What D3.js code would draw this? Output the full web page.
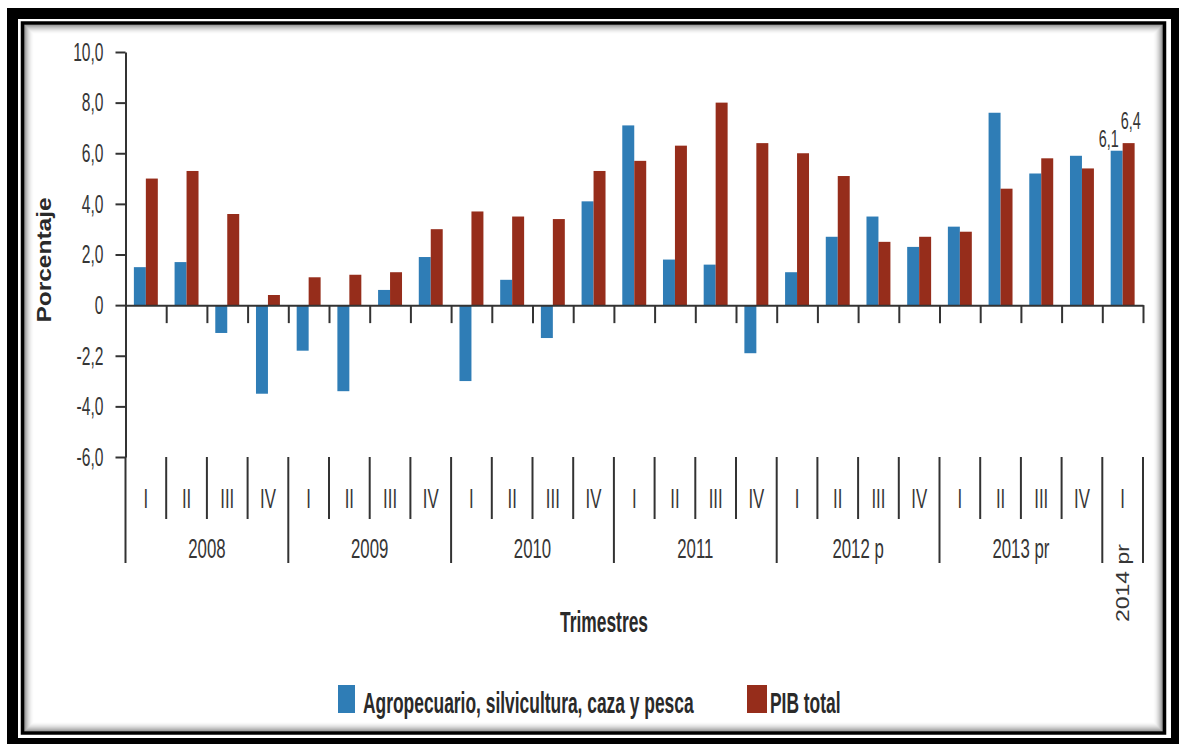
<!DOCTYPE html>
<html>
<head>
<meta charset="utf-8">
<script src="https://cdn.jsdelivr.net/npm/d3@7/dist/d3.min.js"></script>
<style>
  html, body { margin: 0; padding: 0; background: #fff; }
  svg { display: block; }
</style>
</head>
<body>
<div id="chart"></div>
<script>
// Quarterly growth (%) — agro sector vs total GDP
const QUARTERS = ['I', 'II', 'III', 'IV', 'I', 'II', 'III', 'IV', 'I', 'II', 'III', 'IV',
  'I', 'II', 'III', 'IV', 'I', 'II', 'III', 'IV', 'I', 'II', 'III', 'IV', 'I']
const YEAR_LABELS = ['2008', '2009', '2010', '2011', '2012 p', '2013 pr', '2014 pr']
const YEAR_SPANS = [4, 4, 4, 4, 4, 4, 1]
const AGRO = [1.5, 1.7, -1.1, -3.5, -1.8, -3.4, 0.6, 1.9, -3.0, 1.0, -1.3, 4.1,
  7.1, 1.8, 1.6, -1.9, 1.3, 2.7, 3.5, 2.3, 3.1, 7.6, 5.2, 5.9, 6.1]
const PIB = [5.0, 5.3, 3.6, 0.4, 1.1, 1.2, 1.3, 3.0, 3.7, 3.5, 3.4, 5.3,
  5.7, 6.3, 8.0, 6.4, 6.0, 5.1, 2.5, 2.7, 2.9, 4.6, 5.8, 5.4, 6.4]
const SERIES_NAMES = ['Agropecuario, silvicultura, caza y pesca', 'PIB total']
const Y_TICKS = [-6, -4, -2, 0, 2, 4, 6, 8, 10]
const Y_TICK_LABELS = ['-6,0', '-4,0', '-2,2', '0', '2,0', '4,0', '6,0', '8,0', '10,0']
const LAST_LABELS = ['6,1', '6,4']

const COLORS = ['#2f7db6', '#962d1b']
const INK = '#363636'
const FONT = '"Liberation Sans", Arial, sans-serif'
const SX = 0.6   // the source is squeezed horizontally
const SX_ROT = 0.8

const W = 1179, H = 744
const svg = d3.select('#chart').append('svg').attr('width', W).attr('height', H)
svg.append('rect').attr('width', W).attr('height', H).attr('fill', '#fff')

// Frame — thick outer border, thin inner border with inset shadow
svg.append('rect')
  .attr('x', 12.5).attr('y', 13.5).attr('width', 1164).attr('height', 730)
  .attr('fill', 'none').attr('stroke', '#000').attr('stroke-width', 11)
const inner = { x: 22.5, y: 23, w: 1142, h: 710 }
d3.range(10).forEach(k => {
  svg.append('rect')
    .attr('x', inner.x + 2 + k).attr('y', inner.y + 2 + k)
    .attr('width', inner.w - 4 - 2 * k).attr('height', inner.h - 4 - 2 * k)
    .attr('fill', 'none').attr('stroke', '#000')
    .attr('stroke-opacity', 0.45 * Math.pow(1 - k / 10, 2))
})
svg.append('rect')
  .attr('x', inner.x).attr('y', inner.y).attr('width', inner.w).attr('height', inner.h)
  .attr('fill', 'none').attr('stroke', '#000').attr('stroke-width', 3.5)

// Scales
const X0 = 125.5, X1 = 1143
const idx = d3.range(QUARTERS.length)
const x = d3.scaleBand().domain(idx).range([X0, X1]).paddingInner(0).paddingOuter(0)
const xb = d3.scaleLinear().domain([0, QUARTERS.length]).range([X0, X1]) // band boundaries
const x1 = d3.scaleBand().domain([0, 1]).range([0, x.bandwidth()]).paddingInner(0).paddingOuter(0.7)
const y = d3.scaleLinear().domain([-6, 10]).range([457, 52])

function squeezed(parent, px, py, str, o = {}) {
  const sx = o.rotate ? SX_ROT : SX
  const rot = o.rotate ? ` rotate(${o.rotate})` : ''
  return parent.append('text')
    .attr('transform', `translate(${px},${py}) scale(${sx},1)${rot}`)
    .attr('text-anchor', o.anchor || 'middle')
    .attr('font-family', FONT)
    .attr('font-size', o.size || 28)
    .attr('font-weight', o.weight || 'normal')
    .attr('fill', o.fill || INK)
    .text(str)
}

// Bars
const rows = idx.map(i => ({ i, vals: [AGRO[i], PIB[i]] }))
const grp = svg.append('g').selectAll('g').data(rows).join('g')
  .attr('transform', d => `translate(${x(d.i)},0)`)
grp.selectAll('rect').data(d => d.vals.map((v, s) => ({ v, s }))).join('rect')
  .attr('x', d => x1(d.s))
  .attr('width', x1.bandwidth())
  .attr('y', d => y(Math.max(0, d.v)))
  .attr('height', d => Math.abs(y(d.v) - y(0)))
  .attr('fill', d => COLORS[d.s])

// Y axis
svg.append('g')
  .attr('transform', `translate(${X0},0)`)
  .call(d3.axisLeft(y).tickValues(Y_TICKS).tickSize(10).tickSizeOuter(0)
    .tickFormat((d, i) => Y_TICK_LABELS[i]))
  .call(ax => ax.select('.domain').attr('stroke', '#333').attr('stroke-width', 2))
  .call(ax => ax.selectAll('line').attr('stroke', '#333').attr('stroke-width', 2))
  .call(ax => ax.selectAll('text')
    .attr('transform', `scale(${SX},1)`)
    .attr('x', -22 / SX)
    .attr('fill', INK).attr('font-size', 26).attr('font-family', FONT))

// Zero line with boundary ticks
svg.append('g')
  .attr('transform', `translate(0,${y(0)})`)
  .call(d3.axisBottom(xb).tickValues(d3.range(1, QUARTERS.length + 1))
    .tickSize(18).tickSizeOuter(0).tickFormat(''))
  .call(ax => ax.select('.domain').attr('stroke', '#333').attr('stroke-width', 2))
  .call(ax => ax.selectAll('line').attr('stroke', '#333').attr('stroke-width', 2))

// Lower category axis: quarter and year separators
const yearStarts = YEAR_SPANS.map((n, k) => d3.sum(YEAR_SPANS.slice(0, k)))
const bounds = d3.range(QUARTERS.length + 1)
const isYearBound = b => b === QUARTERS.length || yearStarts.includes(b)
svg.append('g').selectAll('line').data(bounds).join('line')
  .attr('x1', b => xb(b)).attr('x2', b => xb(b))
  .attr('y1', y(-6))
  .attr('y2', b => isYearBound(b) ? 563 : 519)
  .attr('stroke', '#333').attr('stroke-width', 2)

const labels = svg.append('g')
idx.forEach(i => squeezed(labels, x(i) + x.bandwidth() / 2, 508, QUARTERS[i], { size: 28 }))

YEAR_LABELS.forEach((lab, k) => {
  const a = yearStarts[k], b = a + YEAR_SPANS[k]
  const cx = (xb(a) + xb(b)) / 2
  if (YEAR_SPANS[k] === 1) {
    squeezed(labels, cx + 6, 583, lab, { size: 23, rotate: -90 })
  } else {
    squeezed(labels, cx, 558, lab, { size: 28 })
  }
})

// Value labels on the last quarter
const last = QUARTERS.length - 1
squeezed(svg, x(last) + x1(0) + x1.bandwidth() / 2 + 2, y(AGRO[last]) - 4, LAST_LABELS[0], { size: 24, anchor: 'end' })
squeezed(svg, x(last) + x1(1) + x1.bandwidth() / 2 + 2, y(PIB[last]) - 14, LAST_LABELS[1], { size: 24 })

// Axis titles
squeezed(svg, 51, 260, 'Porcentaje', { size: 24.5, weight: 'bold', rotate: -90, fill: '#2a2a2a' })
squeezed(svg, 604, 632, 'Trimestres', { size: 29, weight: 'bold', fill: '#2a2a2a' })

// Legend
const legend = svg.append('g')
const LEG_X = [338, 747]
SERIES_NAMES.forEach((name, s) => {
  legend.append('rect')
    .attr('x', LEG_X[s]).attr('y', 685).attr('width', s ? 20 : 17).attr('height', 28)
    .attr('fill', COLORS[s])
  squeezed(legend, LEG_X[s] + (s ? 23 : 25), 713, name, { size: 29, weight: 'bold', anchor: 'start', fill: '#2a2a2a' })
})
</script>
</body>
</html>
